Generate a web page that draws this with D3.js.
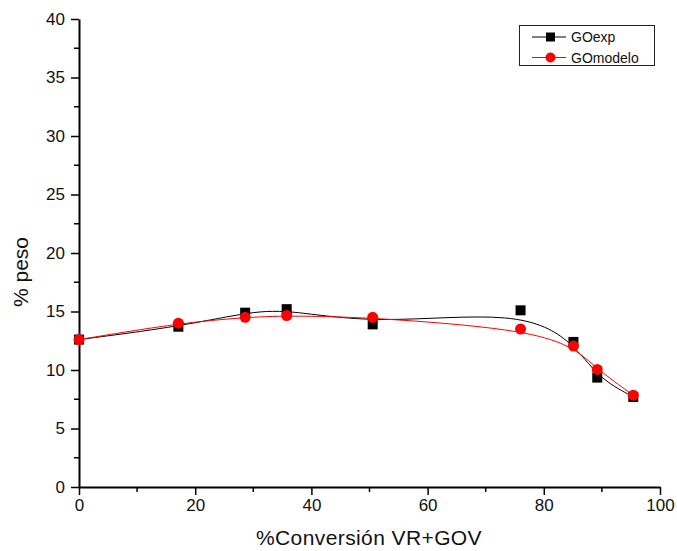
<!DOCTYPE html>
<html><head><meta charset="utf-8">
<script src="https://cdn.jsdelivr.net/npm/d3@7"></script>
<style>body{margin:0;background:#fff;} text{font-family:"Liberation Sans",Arial,sans-serif;}</style>
</head><body>
<svg id="chart" width="677" height="551"></svg>
<script>
const conversion = [0, 17.1, 28.6, 35.75, 50.55, 76.0, 85.1, 89.2, 95.4];
const goExp = [12.6, 13.7, 14.9, 15.2, 13.9, 15.1, 12.4, 9.35, 7.7];
const goModelo = [12.6, 14.0, 14.5, 14.65, 14.5, 13.5, 12.05, 10.05, 7.85];
const xTicks = [0, 20, 40, 60, 80, 100];
const yTicks = [0, 5, 10, 15, 20, 25, 30, 35, 40];
const seriesNames = ["GOexp", "GOmodelo"];

const svg = d3.select("#chart");
const x = d3.scaleLinear().domain([0, 100]).range([79, 660]);
const y = d3.scaleLinear().domain([0, 40]).range([487, 19]);

// minor ticks
const xMinor = d3.range(10, 100, 20);
const yMinor = d3.range(2.5, 40, 5);
svg.append("g").selectAll("line").data(xMinor).join("line")
  .attr("x1", d => x(d)).attr("x2", d => x(d)).attr("y1", 487).attr("y2", 492)
  .attr("stroke", "#000").attr("stroke-width", 1.5);
svg.append("g").selectAll("line").data(yMinor).join("line")
  .attr("y1", d => y(d)).attr("y2", d => y(d)).attr("x1", 79).attr("x2", 74)
  .attr("stroke", "#000").attr("stroke-width", 1.5);

const xAxis = svg.append("g").attr("transform", "translate(0,487)")
  .call(d3.axisBottom(x).tickValues(xTicks).tickSize(8).tickPadding(4).tickSizeOuter(0));
const yAxis = svg.append("g").attr("transform", "translate(79,0)")
  .call(d3.axisLeft(y).tickValues(yTicks).tickSize(8).tickPadding(6).tickSizeOuter(0));
[xAxis, yAxis].forEach(g => {
  g.select(".domain").attr("stroke", "#000").attr("stroke-width", 2);
  g.selectAll(".tick line").attr("stroke", "#000").attr("stroke-width", 1.5);
  g.selectAll(".tick text").attr("font-size", 17).attr("fill", "#111")
    .style("font-family", "'Liberation Sans', Arial, sans-serif");
});

svg.append("text").attr("x", 369).attr("y", 545).attr("text-anchor", "middle")
  .attr("font-size", 21).attr("letter-spacing", 0.4).attr("fill", "#111").text("%Conversión VR+GOV");
svg.append("text").attr("transform", "translate(28,272) rotate(-90)").attr("text-anchor", "middle")
  .attr("font-size", 21).attr("fill", "#111").text("% peso");

const line = d3.line().curve(d3.curveBasis);
const expPts = conversion.map((c, i) => [x(c), y(goExp[i])]);
const modPts = conversion.map((c, i) => [x(c), y(goModelo[i])]);

svg.append("path").attr("d", line(expPts)).attr("fill", "none").attr("stroke", "#000").attr("stroke-width", 1);
svg.append("path").attr("d", line(modPts)).attr("fill", "none").attr("stroke", "red").attr("stroke-width", 1);

svg.append("g").selectAll("rect").data(expPts).join("rect")
  .attr("x", d => d[0] - 5).attr("y", d => d[1] - 5).attr("width", 10).attr("height", 10).attr("fill", "#000");
svg.append("g").selectAll("circle").data(modPts).join("circle")
  .attr("cx", d => d[0]).attr("cy", d => d[1]).attr("r", 5.5).attr("fill", "red");

// legend
const lg = svg.append("g");
lg.append("rect").attr("x", 519.5).attr("y", 25.5).attr("width", 135).attr("height", 40)
  .attr("fill", "#fff").attr("stroke", "#222").attr("stroke-width", 1);
const lgColors = ["#000", "red"];
seriesNames.forEach((n, i) => {
  const yy = 37 + i * 20.5;
  lg.append("line").attr("x1", 532).attr("x2", 566).attr("y1", yy).attr("y2", yy).attr("stroke", lgColors[i]).attr("stroke-width", 1);
  if (i === 0) lg.append("rect").attr("x", 546).attr("y", yy - 4.5).attr("width", 9).attr("height", 9).attr("fill", "#000");
  else lg.append("circle").attr("cx", 550.5).attr("cy", yy).attr("r", 5).attr("fill", "red");
  lg.append("text").attr("x", 571).attr("y", yy + 5).attr("font-size", 14).attr("fill", "#111").text(n);
});
</script>
</body></html>
